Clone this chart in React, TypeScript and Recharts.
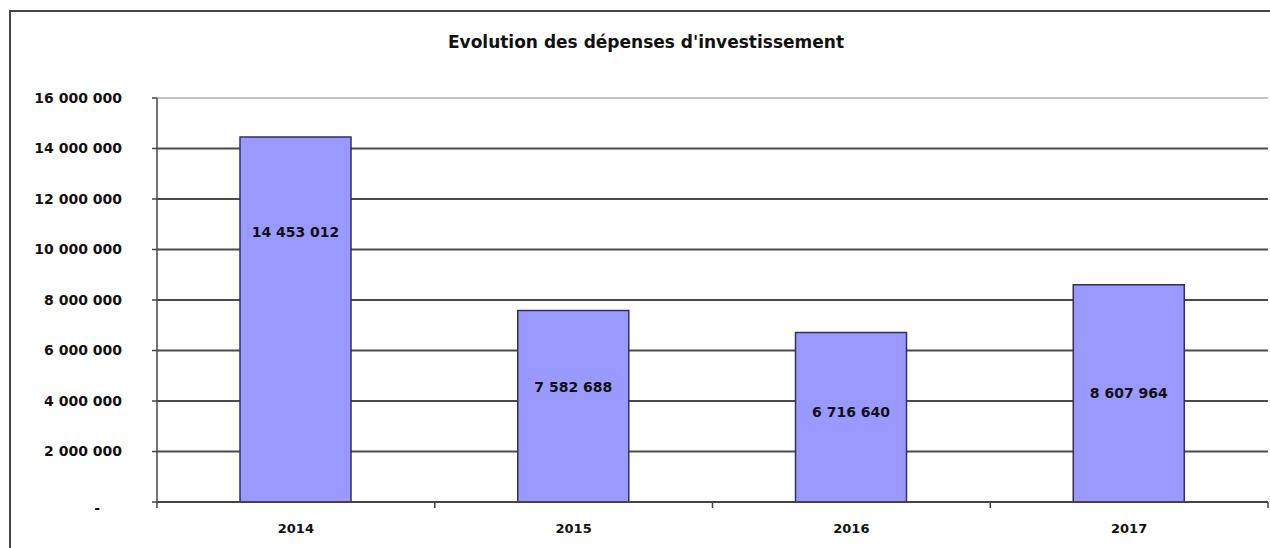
import { Bar, BarChart, CartesianGrid, LabelList, ReferenceLine, XAxis, YAxis } from "recharts";

const years = ["2014", "2015", "2016", "2017"];
const depenses = [14453012, 7582688, 6716640, 8607964];
const yTicks = [0, 2000000, 4000000, 6000000, 8000000, 10000000, 12000000, 14000000, 16000000];

const data = years.map((year, i) => ({ year, depenses: depenses[i] }));

// where each label sits inside its bar, as a share of the bar height from the top
const labelPos = [0.26, 0.4, 0.47, 0.5];

const W = 1270;
const H = 548;
const M_TOP = 98;
const Y_W = 157;
const X_H = 46;
const M_RIGHT = 2;
const BAND = (W - Y_W - M_RIGHT) / years.length;
const FONT = "'DejaVu Sans', 'Liberation Sans', Arial, sans-serif";

const fmt = (v: number) => String(v).replace(/\B(?=(\d{3})+(?!\d))/g, " ");

const YTick = (props: any) => {
  const { x, y, payload } = props;
  const zero = payload.value === 0;
  return (
    <text
      x={zero ? x - 22 : x}
      y={y + (zero ? 6 : 0)}
      dy="0.35em"
      textAnchor="end"
      fontSize={14}
      fontWeight="bold"
      fontFamily={FONT}
      fill="#111">
      {zero ? "-" : fmt(payload.value)}
    </text>
  );
};

const XTick = (props: any) => {
  const { x, payload, index } = props;
  const axisY = H - X_H;
  return (
    <g>
      <line x1={x - BAND / 2} x2={x - BAND / 2} y1={axisY} y2={axisY + 6} stroke="#444" strokeWidth={1.5} />
      {index === years.length - 1 && (
        <line x1={x + BAND / 2} x2={x + BAND / 2} y1={axisY} y2={axisY + 6} stroke="#444" strokeWidth={1.5} />
      )}
      <text
        x={x}
        y={axisY + 26}
        dy="0.35em"
        textAnchor="middle"
        fontSize={13}
        fontWeight="bold"
        fontFamily={FONT}
        fill="#111">
        {payload.value}
      </text>
    </g>
  );
};

const BarValue = (props: any) => {
  const { x, y, width, height, value, index } = props;
  return (
    <text
      x={x + width / 2}
      y={y + height * labelPos[index]}
      dy="0.35em"
      textAnchor="middle"
      fontSize={14}
      fontWeight="bold"
      fontFamily={FONT}
      fill="#111">
      {fmt(value)}
    </text>
  );
};

export default function App() {
  return (
    <div
      style={{
        position: "absolute",
        left: 0,
        top: 0,
        width: W,
        height: H,
        overflow: "hidden",
        background: "#fff",
      }}>
      <div
        style={{
          position: "absolute",
          left: 9,
          top: 10,
          width: W,
          height: H + 20,
          border: "2px solid #444",
        }}
      />
      <div
        style={{
          position: "absolute",
          left: 0,
          width: W,
          top: 32,
          textAlign: "center",
          fontFamily: FONT,
          fontWeight: "bold",
          fontSize: 17,
          color: "#111",
          paddingLeft: 22,
          boxSizing: "border-box",
        }}>
        Evolution des dépenses d'investissement
      </div>
      <div style={{ position: "absolute", left: 0, top: 0 }}>
        <BarChart
          width={W}
          height={H}
          data={data}
          margin={{ top: M_TOP, right: M_RIGHT, bottom: 0, left: 0 }}
          barSize={111}>
          <CartesianGrid vertical={false} stroke="#4a4a4a" strokeWidth={2} />
          <XAxis
            dataKey="year"
            height={X_H}
            axisLine={{ stroke: "#444", strokeWidth: 2 }}
            tickLine={false}
            tick={<XTick />}
          />
          <YAxis
            width={Y_W}
            domain={[0, 16000000]}
            ticks={yTicks}
            interval={0}
            tickSize={5}
            tickMargin={30}
            axisLine={{ stroke: "#444", strokeWidth: 1.5 }}
            tickLine={{ stroke: "#444", strokeWidth: 1.5 }}
            tick={<YTick />}
          />
          <YAxis
            yAxisId="frame"
            orientation="right"
            width={0}
            tick={false}
            tickLine={false}
            axisLine={{ stroke: "#bbb", strokeWidth: 2 }}
          />
          <ReferenceLine y={16000000} stroke="#c4c4c4" strokeWidth={2} />
          <Bar
            dataKey="depenses"
            fill="#9999FF"
            stroke="#2f2f66"
            strokeWidth={1.5}
            isAnimationActive={false}>
            <LabelList dataKey="depenses" content={<BarValue />} />
          </Bar>
        </BarChart>
      </div>
    </div>
  );
}
